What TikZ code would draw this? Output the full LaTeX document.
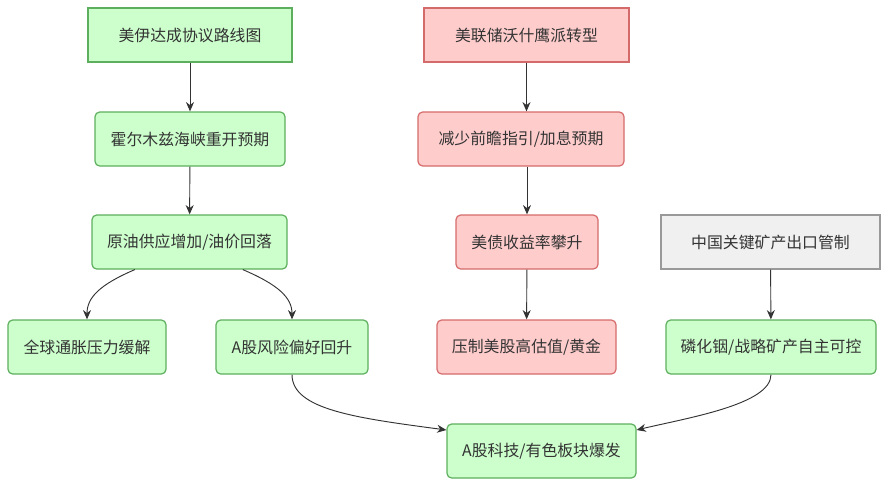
\documentclass[tikz,border=0pt]{standalone}
\usepackage{fontspec}
\setmainfont{Noto Sans CJK SC}
\usetikzlibrary{arrows.meta}
\definecolor{grfill}{HTML}{CCFFCC}
\definecolor{grline}{HTML}{5DAE5D}
\definecolor{rdfill}{HTML}{FFCCCC}
\definecolor{rdline}{HTML}{D46A6A}
\definecolor{gyfill}{HTML}{F0F0F0}
\definecolor{gyline}{HTML}{999999}
\definecolor{txt}{HTML}{333333}

\begin{document}
\begin{tikzpicture}[x=0.75pt,y=-0.75pt,
    box/.style={draw, line width=0.9pt, text=txt, inner sep=0pt,
      font=\fontsize{11.9}{14}\selectfont, minimum height=40.5pt},
    good/.style={box, fill=grfill, draw=grline, rounded corners=3.5pt},
    goodsq/.style={box, fill=grfill, draw=grline, sharp corners},
    bad/.style={box, fill=rdfill, draw=rdline, rounded corners=3.5pt},
    badsq/.style={box, fill=rdfill, draw=rdline, sharp corners},
    plain/.style={box, fill=gyfill, draw=gyline, sharp corners},
    arr/.style={-{Stealth[length=7pt,width=6pt]}, draw=txt, line width=0.7pt}
    ]
\useasboundingbox (0,0) rectangle (890,486);

% oil chain
\node[goodsq, minimum width=153pt]    (deal)    at (190,35)    {美伊达成协议路线图};
\node[good,   minimum width=142.5pt]  (hormuz)  at (190,139)   {霍尔木兹海峡重开预期};
\node[good,   minimum width=146.25pt] (oil)     at (189.5,242) {原油供应增加/油价回落};
\node[good,   minimum width=118.5pt]  (infl)    at (87,347)    {全球通胀压力缓解};
\node[good,   minimum width=114pt]    (risk)    at (292,347)   {A股风险偏好回升};

% fed chain
\node[badsq,  minimum width=153.75pt] (fed)     at (526.5,35)  {美联储沃什鹰派转型};
\node[bad,    minimum width=154.5pt]  (guide)   at (521,139)   {减少前瞻指引/加息预期};
\node[bad,    minimum width=106.5pt]  (yield)   at (527,242)   {美债收益率攀升};
\node[bad,    minimum width=134.25pt] (press)   at (526.5,347) {压制美股高估值/黄金};

% minerals
\node[plain,  minimum width=164.25pt] (export)  at (770.5,242) {中国关键矿产出口管制};
\node[good,   minimum width=157.5pt]  (inp)     at (771,347)   {磷化铟/战略矿产自主可控};

\node[good,   minimum width=141.75pt] (boom)    at (541.5,451) {A股科技/有色板块爆发};

\draw[arr] (deal) -- (hormuz);
\draw[arr] (hormuz) -- (oil);
\draw[arr] ([xshift=-41pt]oil.south) .. controls +(-35,15) and +(0,-22) .. (infl.north);
\draw[arr] ([xshift=40pt]oil.south) .. controls +(35,15) and +(0,-22) .. (risk.north);

\draw[arr] (fed.south) -- (fed.south |- guide.north);
\draw[arr] (yield.north |- guide.south) -- (yield.north);
\draw[arr] (yield) -- (press);

\draw[arr] (export) -- (inp);

\draw[arr] (risk.south) .. controls +(0,35) and +(-90,-12) .. ([yshift=15.75pt]boom.west);
\draw[arr] (inp.south) .. controls +(0,30) and +(50,-12) .. ([yshift=15.75pt]boom.east);
\end{tikzpicture}
\end{document}
